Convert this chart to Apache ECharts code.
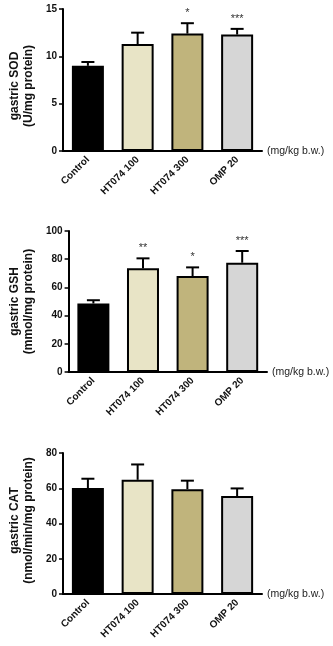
<!DOCTYPE html>
<html>
<head>
<meta charset="utf-8">
<script src="https://cdn.jsdelivr.net/npm/echarts@6/dist/echarts.min.js"></script>
<style>
html,body{margin:0;padding:0;background:#fff;}
#chart{width:333px;height:646px;}
</style>
</head>
<body>
<div id="chart"></div>
<script>
var categories = ['Control', 'HT074 100', 'HT074 300', 'OMP 20'];
var barColors = ['#000000', '#e8e4c6', '#c0b47c', '#d6d6d6'];
var unitLabel = '(mg/kg b.w.)';

var sodValues = [9.0, 11.3, 12.4, 12.3];
var sodErrors = [0.4, 1.2, 1.1, 0.6];
var sodSig = ['', '', '*', '***'];
var sodTicks = [0, 5, 10, 15];

var gshValues = [48.6, 73.5, 68.0, 77.5];
var gshErrors = [2.3, 7.1, 6.2, 8.3];
var gshSig = ['', '**', '*', '***'];
var gshTicks = [0, 20, 40, 60, 80, 100];

var catValues = [60.1, 64.8, 59.5, 55.6];
var catErrors = [5.3, 8.7, 4.8, 4.3];
var catSig = ['', '', '', ''];
var catTicks = [0, 20, 40, 60, 80];

var panels = [
  {name: 'gastric SOD\n(U/mg protein)', values: sodValues, errors: sodErrors, sig: sodSig, ticks: sodTicks,
   grid: {left: 49, top: 9, width: 213, height: 142}, nameGap: 20, namePad: [0, 12, 0, 0]},
  {name: 'gastric GSH\n(mmol/mg protein)', values: gshValues, errors: gshErrors, sig: gshSig, ticks: gshTicks,
   grid: {left: 55, top: 231, width: 212, height: 141}, nameGap: 27, namePad: [0, 0, 0, 0]},
  {name: 'gastric CAT\n(nmol/min/mg protein)', values: catValues, errors: catErrors, sig: catSig, ticks: catTicks,
   grid: {left: 49, top: 453, width: 213, height: 141}, nameGap: 20, namePad: [0, 0, 0, 6]}
];

var FONT = 'Liberation Sans, Arial, sans-serif';
var grids = [], xAxes = [], yAxes = [], series = [];

panels.forEach(function (p, i) {
  grids.push(p.grid);
  xAxes.push({
    type: 'category', gridIndex: i, data: categories,
    name: unitLabel, nameLocation: 'end', nameGap: 5,
    nameTextStyle: {fontFamily: FONT, fontSize: 10.5, color: '#222', verticalAlign: 'middle'},
    axisLine: {lineStyle: {color: '#000', width: 2}},
    axisTick: {alignWithLabel: true, length: 4, lineStyle: {color: '#000', width: 1.5}},
    axisLabel: {rotate: 45, margin: 7, fontFamily: FONT, fontSize: 10, fontWeight: 'bold', color: '#111', interval: 0}
  });
  var mx = p.ticks[p.ticks.length - 1];
  yAxes.push({
    type: 'value', gridIndex: i, min: 0, max: mx, interval: p.ticks[1] - p.ticks[0],
    name: p.name, nameLocation: 'middle', nameRotate: 90, nameGap: p.nameGap,
    nameTextStyle: {fontFamily: FONT, fontSize: 12, fontWeight: 'bold', color: '#111', lineHeight: 13.5, padding: p.namePad},
    splitLine: {show: false},
    axisLine: {show: true, lineStyle: {color: '#000', width: 2}},
    axisTick: {show: true, length: 4, lineStyle: {color: '#000', width: 1.5}},
    axisLabel: {margin: 6, fontFamily: FONT, fontSize: 10, fontWeight: 'bold', color: '#111'}
  });
  series.push({
    type: 'bar', xAxisIndex: i, yAxisIndex: i, barWidth: 32,
    data: p.values.map(function (v, k) {
      return {value: v, itemStyle: {color: barColors[k], borderColor: '#000', borderWidth: 2}};
    }),
    silent: true, animation: false, z: 2
  });
  series.push({
    type: 'custom', xAxisIndex: i, yAxisIndex: i, z: 1, animation: false, silent: true,
    data: p.values.map(function (v, k) { return [k, v, p.errors[k]]; }),
    renderItem: function (params, api) {
      var k = api.value(0), v = api.value(1), e = api.value(2);
      var sig = p.sig[params.dataIndex];
      var base = api.coord([k, v]);
      var top = api.coord([k, v + e]);
      var hw = 6.5;
      var children = [
        {type: 'line', shape: {x1: base[0], y1: base[1], x2: top[0], y2: top[1]}, style: {stroke: '#000', lineWidth: 2}},
        {type: 'line', shape: {x1: top[0] - hw, y1: top[1], x2: top[0] + hw, y2: top[1]}, style: {stroke: '#000', lineWidth: 2}}
      ];
      if (sig) {
        children.push({type: 'text', x: top[0], y: top[1] - 10,
          style: {text: sig, fill: '#333', font: '11px ' + FONT, align: 'center', verticalAlign: 'middle'}});
      }
      return {type: 'group', children: children};
    }
  });
});

var chart = echarts.init(document.getElementById('chart'), null, {renderer: 'canvas'});
chart.setOption({
  backgroundColor: '#fff',
  animation: false,
  grid: grids, xAxis: xAxes, yAxis: yAxes, series: series
});
</script>
</body>
</html>
